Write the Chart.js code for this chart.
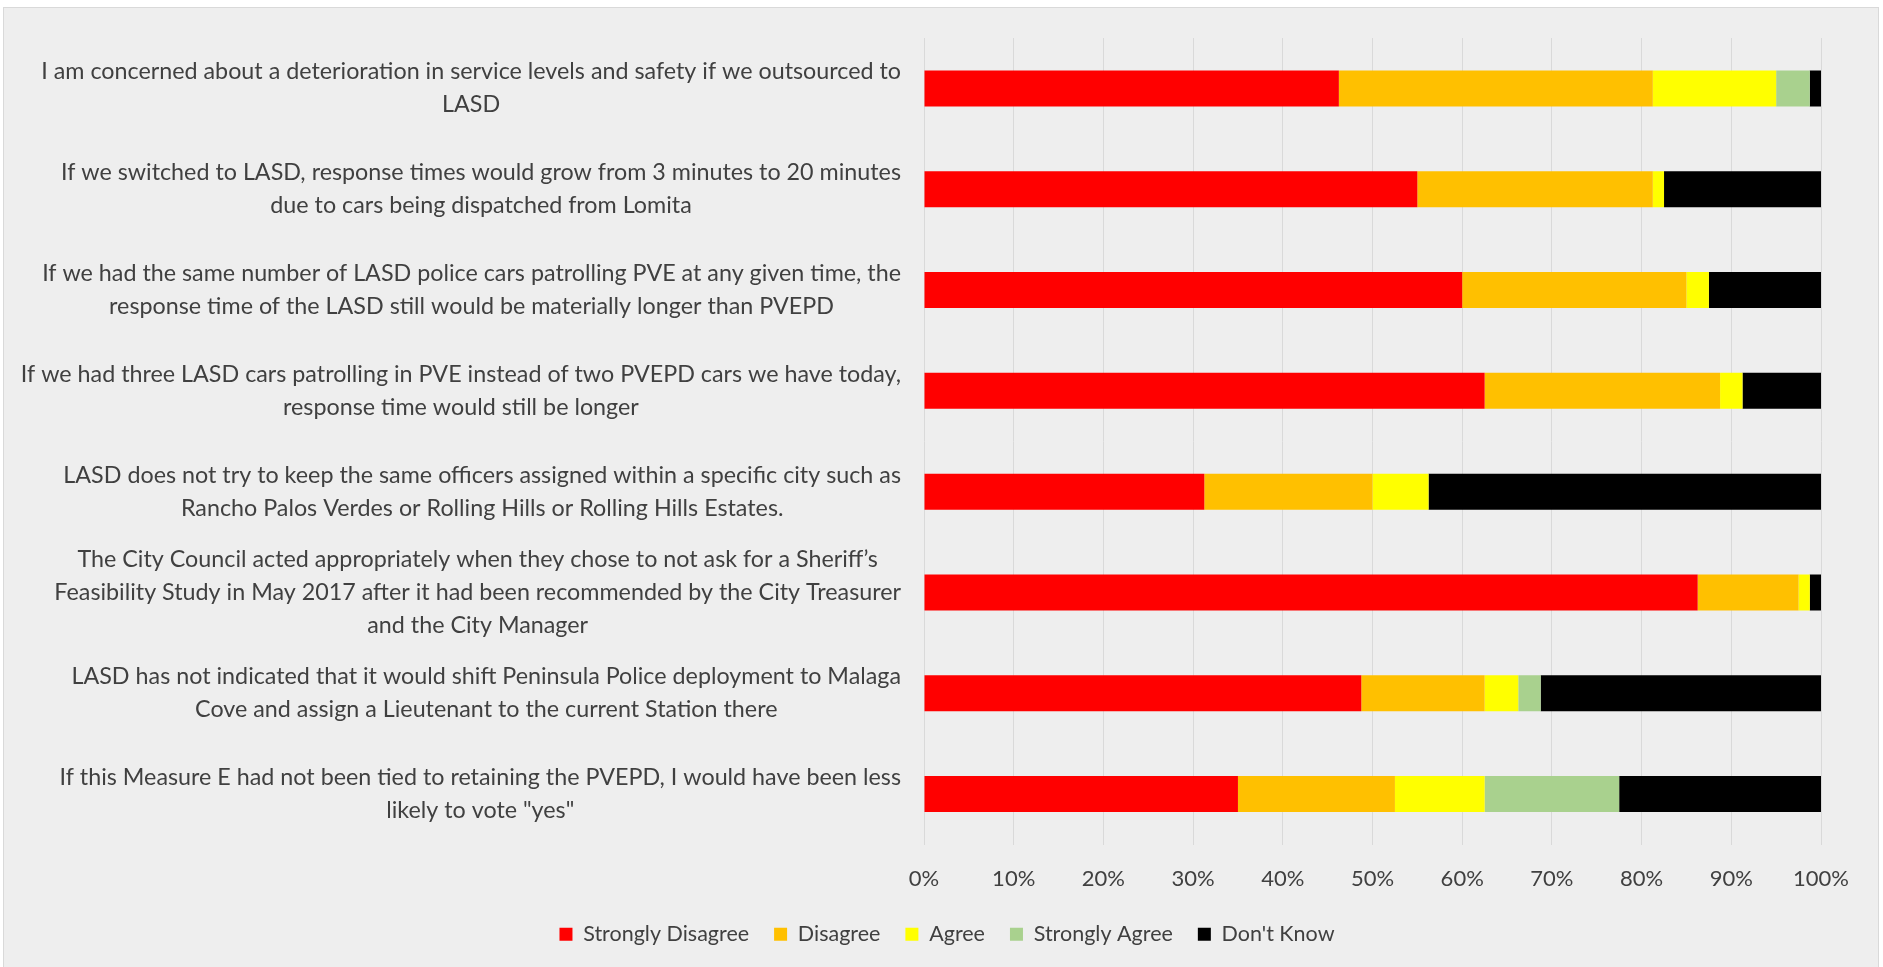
<!DOCTYPE html>
<html>
<head>
<meta charset="utf-8">
<script src="https://cdn.jsdelivr.net/npm/chart.js@4/dist/chart.umd.min.js"></script>
<style>
    html, body { margin: 0; padding: 0; background: #ffffff; }
    #frame { position: absolute; left: 3px; top: 7px; width: 1876px; height: 966px; background: #eeeeee; border: 1px solid #d9d9d9; box-sizing: border-box; }
    #chart { position: absolute; left: 0; top: 0; }
</style>
</head>
<body>
<div id="frame"></div>
<canvas id="chart" width="1883" height="967"></canvas>
<script>
// survey statements, one array of lines per bar
var questions = [
    ['I am concerned about a deterioration in service levels and safety if we outsourced to', 'LASD'],
    ['If we switched to LASD, response times would grow from 3 minutes to 20 minutes', 'due to cars being dispatched from Lomita'],
    ['If we had the same number of LASD police cars patrolling PVE at any given time, the', 'response time of the LASD still would be materially longer than PVEPD'],
    ['If we had three LASD cars patrolling in PVE instead of two PVEPD cars we have today,', 'response time would still be longer'],
    ['LASD does not try to keep the same officers assigned within a specific city such as', 'Rancho Palos Verdes or Rolling Hills or Rolling Hills Estates.'],
    ['The City Council acted appropriately when they chose to not ask for a Sheriff\u2019s', 'Feasibility Study in May 2017 after it had been recommended by the City Treasurer', 'and the City Manager'],
    ['LASD has not indicated that it would shift Peninsula Police deployment to Malaga', 'Cove and assign a Lieutenant to the current Station there'],
    ['If this Measure E had not been tied to retaining the PVEPD, I would have been less', 'likely to vote "yes"']
];

// percent of responses
var stronglyDisagree = [46.25, 55, 60, 62.5, 31.25, 86.25, 48.75, 35];
var disagree = [35, 26.25, 25, 26.25, 18.75, 11.25, 13.75, 17.5];
var agree = [13.75, 1.25, 2.5, 2.5, 6.25, 1.25, 3.75, 10];
var stronglyAgree = [3.75, 0, 0, 0, 0, 0, 2.5, 15];
var dontKnow = [1.25, 17.5, 12.5, 8.75, 43.75, 1.25, 31.25, 22.5];

var seriesNames = ['Strongly Disagree', 'Disagree', 'Agree', 'Strongly Agree', "Don't Know"];
var seriesColors = ['#ff0000', '#ffc000', '#ffff00', '#a9d18e', '#000000'];
var seriesValues = [stronglyDisagree, disagree, agree, stronglyAgree, dontKnow];

var xTicks = [0, 10, 20, 30, 40, 50, 60, 70, 80, 90, 100];

var textColor = '#404040';
var fontFamily = 'Lato, "Open Sans", sans-serif';
var labelSize = 23.3;
var tickSize = 22;
var legendSize = 21.5;

var datasets = [];
for (var i = 0; i < seriesNames.length; i++) {
    datasets.push({
        label: seriesNames[i],
        data: seriesValues[i],
        backgroundColor: seriesColors[i],
        borderWidth: 0,
        categoryPercentage: 0.5,
        barPercentage: 0.714
    });
}

// draws the statements centred line by line, block right aligned to the axis
var questionLabels = {
    id: 'questionLabels',
    afterDraw: function (chart) {
        var ctx = chart.ctx;
        var yScale = chart.scales.y;
        var right = chart.chartArea.left - 23;
        var lineHeight = 33;
        ctx.save();
        ctx.font = labelSize + 'px ' + fontFamily;
        ctx.fillStyle = textColor;
        ctx.textAlign = 'center';
        ctx.textBaseline = 'middle';
        questions.forEach(function (lines, idx) {
            var widest = 0;
            lines.forEach(function (l) { widest = Math.max(widest, ctx.measureText(l).width); });
            var cx = right - widest / 2;
            var cy = yScale.getPixelForTick(idx);
            var y0 = cy - (lines.length - 1) * lineHeight / 2;
            lines.forEach(function (l, k) { ctx.fillText(l, cx, y0 + k * lineHeight); });
        });
        ctx.restore();
    }
};

var ctx = document.getElementById('chart').getContext('2d');
new Chart(ctx, {
    type: 'bar',
    data: { labels: questions.map(function (q) { return q.join(' '); }), datasets: datasets },
    plugins: [questionLabels],
    options: {
        indexAxis: 'y',
        responsive: false,
        animation: false,
        layout: { padding: { top: 38, right: 62, bottom: 12, left: 73 } },
        scales: {
            x: {
                stacked: true,
                min: 0,
                max: 100,
                afterBuildTicks: function (scale) { scale.ticks = xTicks.map(function (v) { return {value: v}; }); },
                afterFit: function (scale) { scale.height = 54; },
                grid: { color: '#d9d9d9', lineWidth: 1, drawTicks: false },
                border: { display: false },
                ticks: {
                    padding: 21,
                    color: textColor,
                    font: { family: fontFamily, size: tickSize },
                    callback: function (v) { return v + '%'; }
                }
            },
            y: {
                stacked: true,
                afterFit: function (scale) { scale.width = 851; },
                grid: { display: false },
                border: { display: false },
                ticks: { display: false }
            }
        },
        plugins: {
            tooltip: { enabled: false },
            legend: {
                position: 'bottom',
                labels: {
                    boxWidth: 13,
                    boxHeight: 13,
                    padding: 25,
                    color: textColor,
                    font: { family: fontFamily, size: legendSize }
                }
            }
        }
    }
});
</script>
</body>
</html>
